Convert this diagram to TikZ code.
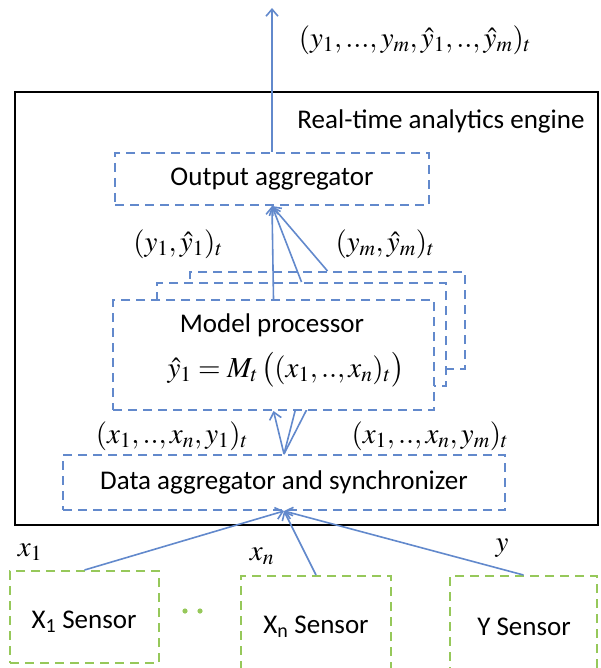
\documentclass[tikz,border=0pt]{standalone}
\usepackage{mathptmx}
\usepackage[no-math]{fontspec}
\setmainfont{Carlito}
\usepackage{tikz}
\usetikzlibrary{positioning, calc, arrows.meta}
\definecolor{linkblue}{RGB}{98,137,204}
\definecolor{sensgreen}{RGB}{150,200,90}

\tikzset{
	dbox/.style={draw=linkblue, line width=2pt, dash pattern=on 9pt off 6pt, fill=white, inner sep=0pt},
	sbox/.style={draw=sensgreen, line width=2pt, dash pattern=on 9pt off 6pt, inner sep=0pt},
	flow/.style={draw=linkblue, line width=1.6pt, -{Straight Barb[length=7pt, width=12pt]}},
	txt/.style={font=\fontsize{27}{32}\selectfont, inner sep=0pt},
	mth/.style={font=\fontsize{29}{34}\selectfont, inner sep=0pt}
}

\begin{document}
\begin{tikzpicture}[x=1pt, y=-1pt]
		\useasboundingbox (0,0) rectangle (600,668);
		% engine frame
		\node[draw, line width=2.4pt, minimum width=583, minimum height=433, inner sep=0pt] (engine) at (306.5,308.5) {};
		\node[txt, anchor=center] (enginelbl) at (441,121) {Real-time analytics engine};
		% aggregators
		\node[dbox, minimum width=314, minimum height=52] (outagg) at (272,179) {};
		\node[txt] at (outagg) {Output aggregator};
		\node[dbox, minimum width=442, minimum height=55] (dataagg) at (284,482.5) {};
		\node[txt] at (dataagg) {Data aggregator and synchronizer};
		% lines to the hidden processors
		\draw[linkblue, line width=1.6pt] (dataagg.north) -- (301.5,386);
		\draw[linkblue, line width=1.6pt] (dataagg.north) -- (327.5,369);
		% model processors, back to front
		\node[dbox, minimum width=275, minimum height=97] (modelc) at (327.5,320.5) {};
		\node[dbox, minimum width=289, minimum height=103] (modelb) at (301.5,334.5) {};
		\node[dbox, minimum width=321, minimum height=110] (model) at (273.5,355) {};
		\node[txt] (modellbl) at (272,325) {Model processor};
		\node[mth] (modelfn) at (286,370) {$\hat{y}_1 = M_t\,\big((x_1,..,x_n)_t\big)$};
		% sensors
		\node[sbox, minimum width=149, minimum height=92] (sxone) at (84.5,617) {};
		\node[txt] at (84,622) {X\textsubscript{1} Sensor};
		\node[sbox, minimum width=150, minimum height=110] (sxn) at (316,631) {};
		\node[txt] at (316,627) {X\textsubscript{n} Sensor};
		\node[sbox, minimum width=147, minimum height=110] (sy) at (523.5,631) {};
		\node[txt] at (524,627) {Y Sensor};
		\fill[sensgreen] (185,611) circle (2.6) (200,611) circle (2.6);
		% flows
		\coordinate (out) at (272,8);
		\draw[flow] (outagg.north) -- (out);
		\draw[flow] (model.north) -- (outagg.south);
		\draw[flow] (modelb.north) -- (outagg.south);
		\draw[flow] (modelc.north) -- (outagg.south);
		\draw[flow] (dataagg.north) -- (model.south);
		\draw[flow] (sxone.north) -- (dataagg.south);
		\draw[flow] (sxn.north) -- (dataagg.south);
		\draw[flow] (sy.north) -- (dataagg.south);
		% labels
		\node[mth] (outlbl) at (415,40) {$(y_1,...,y_m,\hat{y}_1,..,\hat{y}_m)_t$};
		\node[mth] (yonelbl) at (178,244) {$(y_1,\hat{y}_1)_t$};
		\node[mth] (ymlbl) at (385,244) {$(y_m,\hat{y}_m)_t$};
		\node[mth] (xonelbl) at (172,436) {$(x_1,..,x_n,y_1)_t$};
		\node[mth] (xmlbl) at (430,436) {$(x_1,..,x_n,y_m)_t$};
		\node[mth] (xlbl) at (30,552) {$x_1$};
		\node[mth] (xnlbl) at (262,556) {$x_n$};
		\node[mth] (ylbl) at (502,548) {$y$};
\end{tikzpicture}
\end{document}
